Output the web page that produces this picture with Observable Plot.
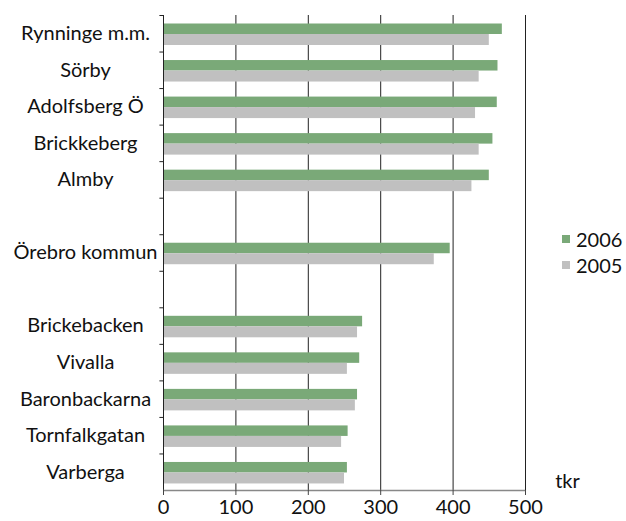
<!DOCTYPE html>
<html><head><meta charset="utf-8">
<script src="https://cdn.jsdelivr.net/npm/d3@7"></script>
<script src="https://cdn.jsdelivr.net/npm/@observablehq/plot@0.6"></script>
<style>
body{margin:0;background:#fff;}
#wrap{position:relative;width:626px;height:521px;font-family:Lato,sans-serif;}
.leg{position:absolute;left:562px;font-size:20px;color:#111;display:flex;align-items:center;height:20px;}
.sw{width:8px;height:8px;margin-right:6px;}
</style></head><body><div id="wrap"></div>
<script>
const categories = ["Rynninge m.m.","Sörby","Adolfsberg Ö","Brickkeberg","Almby"," ","Örebro kommun","  ","Brickebacken","Vivalla","Baronbackarna","Tornfalkgatan","Varberga"];
const values2006 = [468,462,461,455,450,null,396,null,275,271,268,255,254];
const values2005 = [450,436,431,436,426,null,374,null,268,254,265,246,250];
const xTicks = [0,100,200,300,400,500];
const seriesNames = ["2006","2005"];
const seriesColors = ["#7aa978","#c0c0c0"];
const unitLabel = "tkr";

const rows = categories.map((c,i)=>({cat:c, v2006:values2006[i], v2005:values2005[i]})).filter(d=>d.v2006!=null);
const H = 521, mTop = 15, mBottom = 31;
const band = (H - mTop - mBottom) / categories.length;

const chart = Plot.plot({
  width: 626, height: H,
  marginLeft: 163, marginRight: 101, marginTop: mTop, marginBottom: mBottom,
  style: {fontFamily: "Lato, sans-serif", color: "#111", background: "#fff"},
  x: {domain: [0, 500], axis: null},
  y: {domain: categories, padding: 0, round: false, axis: null},
  marks: [
    Plot.ruleX(xTicks.slice(1), {stroke: "#222", strokeWidth: 1}),
    Plot.barX(rows, {x: "v2006", y: "cat", fill: seriesColors[0], insetTop: 8.5, insetBottom: band - 19}),
    Plot.barX(rows, {x: "v2005", y: "cat", fill: seriesColors[1], insetTop: 19, insetBottom: band - 30}),
    Plot.ruleX([0], {stroke: "#222", strokeWidth: 1}),
    Plot.ruleY(categories, {y: d => d, x1: -5, x2: 0, dy: -band/2, stroke: "#222"}),
    Plot.ruleY([categories[categories.length-1]], {x1: 0, x2: 500, dy: band/2, stroke: "#888", strokeWidth: 1.5}),
    Plot.axisX(xTicks, {anchor: "bottom", tickSize: 5, tickPadding: 4, fontSize: 20, stroke: "#444", label: null}),
    Plot.axisY(categories, {anchor: "left", tickSize: 0, tickPadding: 78, textAnchor: "middle", fontSize: 20, label: null}),
    Plot.text([unitLabel], {frameAnchor: "bottom-right", dx: 42, dy: -3, textAnchor: "middle", fontSize: 20})
  ]
});
const wrap = document.getElementById("wrap");
wrap.appendChild(chart);
seriesNames.forEach((n,i)=>{
  const d = document.createElement("div");
  d.className = "leg";
  d.style.top = (229 + i*26) + "px";
  d.innerHTML = `<div class="sw" style="background:${seriesColors[i]}"></div><span>${n}</span>`;
  wrap.appendChild(d);
});
</script></body></html>
